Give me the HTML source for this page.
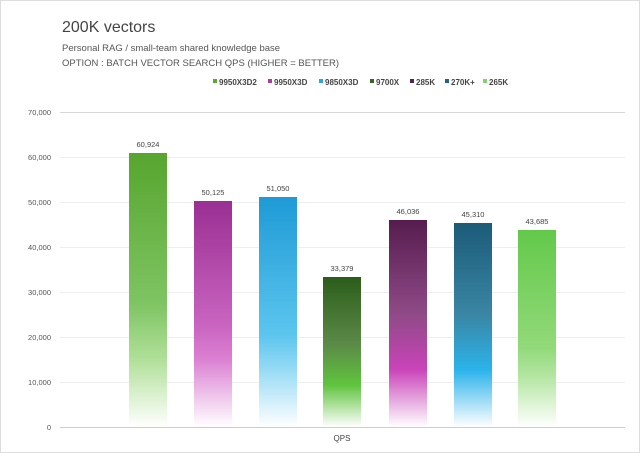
<!DOCTYPE html>
<html><head><meta charset="utf-8"><style>
body{margin:0;background:#fff;}
svg{display:block;font-family:"Liberation Sans",sans-serif;}
</style></head><body>
<svg width="640" height="453" viewBox="0 0 640 453">
<defs>
<linearGradient id="g1" x1="0" y1="0" x2="0" y2="1"><stop offset="0" stop-color="#57a52f"/><stop offset="0.55" stop-color="#7fc463"/><stop offset="0.75" stop-color="#b0df98"/><stop offset="1" stop-color="#ffffff"/></linearGradient>
<linearGradient id="g2" x1="0" y1="0" x2="0" y2="1"><stop offset="0" stop-color="#9a2f93"/><stop offset="0.55" stop-color="#c964c0"/><stop offset="0.7" stop-color="#db80d3"/><stop offset="1" stop-color="#ffffff"/></linearGradient>
<linearGradient id="g3" x1="0" y1="0" x2="0" y2="1"><stop offset="0" stop-color="#1e9ad6"/><stop offset="0.6" stop-color="#5cc5ee"/><stop offset="0.72" stop-color="#8ad6f4"/><stop offset="1" stop-color="#ffffff"/></linearGradient>
<linearGradient id="g4" x1="0" y1="0" x2="0" y2="1"><stop offset="0" stop-color="#2c5c1b"/><stop offset="0.45" stop-color="#5c8a48"/><stop offset="0.72" stop-color="#5fc43d"/><stop offset="1" stop-color="#ffffff"/></linearGradient>
<linearGradient id="g5" x1="0" y1="0" x2="0" y2="1"><stop offset="0" stop-color="#561c4f"/><stop offset="0.45" stop-color="#8e4a86"/><stop offset="0.72" stop-color="#c943b9"/><stop offset="1" stop-color="#ffffff"/></linearGradient>
<linearGradient id="g6" x1="0" y1="0" x2="0" y2="1"><stop offset="0" stop-color="#1b5b78"/><stop offset="0.45" stop-color="#3a86a4"/><stop offset="0.72" stop-color="#2bb3ea"/><stop offset="1" stop-color="#ffffff"/></linearGradient>
<linearGradient id="g7" x1="0" y1="0" x2="0" y2="1"><stop offset="0" stop-color="#63c94a"/><stop offset="0.6" stop-color="#92d97a"/><stop offset="0.75" stop-color="#b6e6a4"/><stop offset="1" stop-color="#ffffff"/></linearGradient>
</defs>
<rect x="0.5" y="0.5" width="639" height="452" fill="#fff" stroke="#ddd"/>
<text x="62" y="32" font-size="16" fill="#444">200K vectors</text>
<text x="62" y="51" font-size="9.5" fill="#555">Personal RAG / small-team shared knowledge base</text>
<text x="62" y="66" font-size="9.5" fill="#555">OPTION :   BATCH VECTOR SEARCH QPS (HIGHER = BETTER)</text>
<g font-size="8" fill="#444" font-weight="bold">
<rect x="213" y="79" width="4" height="4" fill="#5aa832"/><text x="219" y="85">9950X3D2</text>
<rect x="268" y="79" width="4" height="4" fill="#b23aa8"/><text x="274" y="85">9950X3D</text>
<rect x="319" y="79" width="4" height="4" fill="#2aa7de"/><text x="325" y="85">9850X3D</text>
<rect x="370" y="79" width="4" height="4" fill="#2f6a20"/><text x="376" y="85">9700X</text>
<rect x="410" y="79" width="4" height="4" fill="#5c1f55"/><text x="416" y="85">285K</text>
<rect x="445" y="79" width="4" height="4" fill="#1f6585"/><text x="451" y="85">270K+</text>
<rect x="483" y="79" width="4" height="4" fill="#7ed665"/><text x="489" y="85">265K</text>
</g>
<g stroke="#eee" stroke-width="1">
<line x1="60" y1="157.5" x2="625" y2="157.5"/><line x1="60" y1="202.5" x2="625" y2="202.5"/><line x1="60" y1="247.5" x2="625" y2="247.5"/><line x1="60" y1="292.5" x2="625" y2="292.5"/><line x1="60" y1="337.5" x2="625" y2="337.5"/><line x1="60" y1="382.5" x2="625" y2="382.5"/>
</g>
<line x1="60" y1="112.5" x2="625" y2="112.5" stroke="#d8d8d8"/>
<line x1="60" y1="427.5" x2="625" y2="427.5" stroke="#ccc"/>
<g font-size="7.5" fill="#555" text-anchor="end">
<text x="51" y="115">70,000</text><text x="51" y="160">60,000</text><text x="51" y="205">50,000</text><text x="51" y="250">40,000</text><text x="51" y="295">30,000</text><text x="51" y="340">20,000</text><text x="51" y="385">10,000</text><text x="51" y="430">0</text>
</g>
<rect x="129" y="153" width="38" height="274" fill="url(#g1)"/>
<rect x="194" y="201" width="38" height="226" fill="url(#g2)"/>
<rect x="259" y="197" width="38" height="230" fill="url(#g3)"/>
<rect x="323" y="277" width="38" height="150" fill="url(#g4)"/>
<rect x="389" y="220" width="38" height="207" fill="url(#g5)"/>
<rect x="454" y="223" width="38" height="204" fill="url(#g6)"/>
<rect x="518" y="230" width="38" height="197" fill="url(#g7)"/>
<g font-size="7.5" fill="#444" text-anchor="middle">
<text x="148" y="147">60,924</text><text x="213" y="195">50,125</text><text x="278" y="191">51,050</text><text x="342" y="271">33,379</text><text x="408" y="214">46,036</text><text x="473" y="217">45,310</text><text x="537" y="224">43,685</text>
</g>
<text x="342" y="441" font-size="8" fill="#444" text-anchor="middle">QPS</text>
</svg>
</body></html>
